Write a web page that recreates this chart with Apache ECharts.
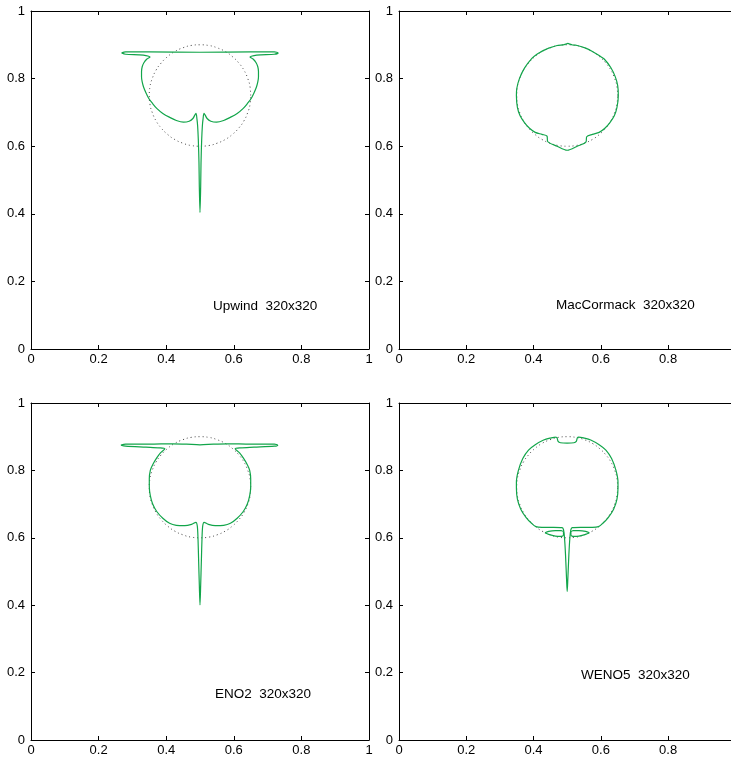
<!DOCTYPE html>
<html>
<head>
<meta charset="utf-8">
<script src="https://cdn.jsdelivr.net/npm/echarts@6/dist/echarts.min.js"></script>
<style>
  html, body { margin: 0; padding: 0; background: #fff; overflow: hidden; }
  /* the right-hand panels run slightly past the window edge */
  #chart { width: 742px; height: 760px; }
</style>
</head>
<body>
<div id="chart"></div>
<script>
// Axis ticks shared by all four panels
const tickValues = [0, 0.2, 0.4, 0.6, 0.8, 1];

// Initial interface: circle of radius 0.15 centred at (0.5, 0.75), sampled every 10 degrees
const initialCircle = [
  [0.650, 0.750], [0.648, 0.776], [0.641, 0.801], [0.630, 0.825], [0.615, 0.846], [0.596, 0.865],
  [0.575, 0.880], [0.551, 0.891], [0.526, 0.898], [0.500, 0.900], [0.474, 0.898], [0.449, 0.891],
  [0.425, 0.880], [0.404, 0.865], [0.385, 0.846], [0.370, 0.825], [0.359, 0.801], [0.352, 0.776],
  [0.350, 0.750], [0.352, 0.724], [0.359, 0.699], [0.370, 0.675], [0.385, 0.654], [0.404, 0.635],
  [0.425, 0.620], [0.449, 0.609], [0.474, 0.602], [0.500, 0.600], [0.526, 0.602], [0.551, 0.609],
  [0.575, 0.620], [0.596, 0.635], [0.615, 0.654], [0.630, 0.675], [0.641, 0.699], [0.648, 0.724],
  [0.650, 0.750]
];

// Upwind scheme, 320x320
const upwindFront = [
  [0.268, 0.876], [0.280, 0.879], [0.350, 0.879], [0.500, 0.878], [0.650, 0.879], [0.720, 0.879], [0.731, 0.876],
  [0.720, 0.872], [0.680, 0.870], [0.660, 0.868], [0.648, 0.864],
  [0.657, 0.858], [0.666, 0.847], [0.671, 0.835], [0.673, 0.821], [0.673, 0.805], [0.671, 0.790],
  [0.667, 0.775], [0.660, 0.758], [0.652, 0.742], [0.640, 0.726], [0.628, 0.712], [0.610, 0.697],
  [0.589, 0.685], [0.570, 0.676], [0.549, 0.671], [0.532, 0.674], [0.521, 0.682], [0.512, 0.697],
  [0.509, 0.680], [0.507, 0.660], [0.505, 0.620], [0.503, 0.550], [0.502, 0.480], [0.500, 0.404],
  [0.498, 0.480], [0.497, 0.550], [0.495, 0.620], [0.493, 0.660], [0.491, 0.680], [0.488, 0.697],
  [0.479, 0.682], [0.468, 0.674], [0.451, 0.671], [0.430, 0.676], [0.411, 0.685], [0.390, 0.697],
  [0.372, 0.712], [0.360, 0.726], [0.348, 0.742], [0.340, 0.758], [0.333, 0.775], [0.329, 0.790],
  [0.327, 0.805], [0.327, 0.821], [0.329, 0.835], [0.334, 0.847], [0.343, 0.858], [0.352, 0.864],
  [0.340, 0.868], [0.320, 0.870], [0.280, 0.872], [0.268, 0.876]
];

// MacCormack scheme, 320x320
const macCormackFront = [
  [0.515, 0.900], [0.508, 0.902], [0.502, 0.904], [0.496, 0.902], [0.488, 0.900], [0.470, 0.898],
  [0.445, 0.890], [0.420, 0.878], [0.410, 0.872], [0.395, 0.860], [0.373, 0.831], [0.358, 0.800],
  [0.350, 0.770], [0.349, 0.750], [0.352, 0.715], [0.360, 0.690], [0.373, 0.670], [0.388, 0.653],
  [0.405, 0.641], [0.425, 0.635], [0.440, 0.630], [0.442, 0.614], [0.470, 0.600], [0.500, 0.588],
  [0.530, 0.600], [0.556, 0.613], [0.558, 0.628], [0.575, 0.635], [0.595, 0.641], [0.612, 0.653],
  [0.627, 0.670], [0.640, 0.690], [0.648, 0.715], [0.652, 0.750], [0.650, 0.780], [0.643, 0.805],
  [0.630, 0.832], [0.610, 0.858], [0.595, 0.868], [0.575, 0.880], [0.555, 0.890], [0.530, 0.898],
  [0.515, 0.900]
];

// ENO2 scheme, 320x320
const eno2Front = [
  [0.266, 0.875], [0.280, 0.878], [0.350, 0.878], [0.420, 0.879], [0.460, 0.878], [0.500, 0.876],
  [0.540, 0.878], [0.580, 0.879], [0.650, 0.878], [0.720, 0.878], [0.730, 0.875],
  [0.720, 0.872], [0.660, 0.869], [0.620, 0.867], [0.604, 0.864],
  [0.617, 0.852], [0.628, 0.837], [0.640, 0.817], [0.647, 0.800], [0.650, 0.775], [0.650, 0.752],
  [0.647, 0.725], [0.640, 0.700], [0.628, 0.678], [0.610, 0.658], [0.590, 0.643], [0.570, 0.637],
  [0.545, 0.636], [0.525, 0.640], [0.512, 0.646],
  [0.508, 0.635], [0.506, 0.600], [0.504, 0.530], [0.502, 0.460], [0.500, 0.401],
  [0.498, 0.460], [0.496, 0.530], [0.494, 0.600], [0.492, 0.635], [0.488, 0.646],
  [0.475, 0.640], [0.455, 0.636], [0.430, 0.637], [0.410, 0.643], [0.390, 0.658], [0.372, 0.678],
  [0.360, 0.700], [0.353, 0.725], [0.350, 0.752], [0.350, 0.775], [0.353, 0.800], [0.360, 0.817],
  [0.372, 0.837], [0.383, 0.852], [0.396, 0.864],
  [0.380, 0.867], [0.340, 0.869], [0.280, 0.872], [0.266, 0.875]
];

// WENO5 scheme, 320x320: main body with thin trailing stem
const weno5Front = [
  [0.466, 0.899], [0.470, 0.896], [0.473, 0.886], [0.480, 0.882], [0.500, 0.881], [0.520, 0.882],
  [0.527, 0.886], [0.530, 0.896], [0.534, 0.899], [0.550, 0.896], [0.570, 0.890], [0.595, 0.876],
  [0.615, 0.860], [0.632, 0.835], [0.645, 0.800], [0.651, 0.765], [0.651, 0.748], [0.648, 0.715],
  [0.638, 0.685], [0.622, 0.660], [0.606, 0.643], [0.593, 0.633], [0.575, 0.631], [0.540, 0.631],
  [0.515, 0.630], [0.511, 0.624], [0.508, 0.600], [0.505, 0.550], [0.502, 0.480], [0.500, 0.441],
  [0.498, 0.480], [0.495, 0.550], [0.492, 0.600], [0.489, 0.624], [0.485, 0.630], [0.460, 0.631],
  [0.425, 0.631], [0.407, 0.633], [0.394, 0.643], [0.378, 0.660], [0.362, 0.685], [0.352, 0.715],
  [0.349, 0.748], [0.349, 0.765], [0.355, 0.800], [0.368, 0.835], [0.385, 0.860], [0.405, 0.876],
  [0.430, 0.890], [0.450, 0.896], [0.466, 0.899]
];
// WENO5 detached droplets beside the stem
const weno5DropLeft = [
  [0.434, 0.615], [0.445, 0.619], [0.465, 0.621], [0.482, 0.621], [0.489, 0.617], [0.489, 0.608],
  [0.482, 0.604], [0.465, 0.605], [0.445, 0.610], [0.434, 0.615]
];
const weno5DropRight = [
  [0.566, 0.615], [0.555, 0.619], [0.535, 0.621], [0.518, 0.621], [0.511, 0.617], [0.511, 0.608],
  [0.518, 0.604], [0.535, 0.605], [0.555, 0.610], [0.566, 0.615]
];

// Panel captions
const panelTitles = ['Upwind  320x320', 'MacCormack  320x320', 'ENO2  320x320', 'WENO5  320x320'];

const FONT = '"Liberation Sans", Arial, Helvetica, sans-serif';
const GREEN = '#12a54a';

const grids = [
  { left: 31, top: 11, width: 338, height: 338 },
  { left: 399, top: 11, width: 338, height: 338 },
  { left: 31, top: 403, width: 338, height: 337 },
  { left: 399, top: 403, width: 338, height: 337 }
];

const tickFmt = v => (tickValues.indexOf(v) >= 0 ? String(v) : '');

const xAxes = [], yAxes = [];
grids.forEach((g, i) => {
  const common = {
    type: 'value', min: 0, max: 1, interval: 0.2, gridIndex: i,
    axisLine: { show: true, onZero: false, lineStyle: { color: '#000', width: 1 } },
    axisTick: { show: true, inside: true, length: 4, lineStyle: { color: '#000', width: 1 } },
    splitLine: { show: false }
  };
  xAxes.push(Object.assign({}, common, {
    position: 'bottom',
    axisLabel: { color: '#000', fontSize: 13, fontFamily: FONT, margin: 4, formatter: tickFmt }
  }));
  xAxes.push(Object.assign({}, common, { position: 'top', axisLabel: { show: false } }));
  yAxes.push(Object.assign({}, common, {
    position: 'left',
    axisLabel: { color: '#000', fontSize: 13, fontFamily: FONT, margin: 6, formatter: tickFmt }
  }));
  yAxes.push(Object.assign({}, common, { position: 'right', axisLabel: { show: false } }));
});

function circleSeries(i) {
  return {
    type: 'line', xAxisIndex: 2 * i, yAxisIndex: 2 * i, data: initialCircle,
    showSymbol: false, smooth: true, silent: true, z: 1,
    lineStyle: { color: '#333', width: 0.9, type: [1, 3] }
  };
}
function frontSeries(i, pts) {
  return {
    type: 'line', xAxisIndex: 2 * i, yAxisIndex: 2 * i, data: pts,
    showSymbol: false, smooth: 0.3, silent: true, z: 2,
    lineStyle: { color: GREEN, width: 1.2 }
  };
}

const series = [
  circleSeries(0), frontSeries(0, upwindFront),
  circleSeries(1), frontSeries(1, macCormackFront),
  circleSeries(2), frontSeries(2, eno2Front),
  circleSeries(3), frontSeries(3, weno5Front), frontSeries(3, weno5DropLeft), frontSeries(3, weno5DropRight)
];

const captionPos = [[213, 299], [556, 298], [215, 687], [581, 668]];
const graphic = panelTitles.map((t, i) => ({
  type: 'text', left: captionPos[i][0], top: captionPos[i][1],
  style: { text: t, font: '13.5px ' + FONT, fill: '#000' }
}));

const chart = echarts.init(document.getElementById('chart'), null, { renderer: 'canvas' });
chart.setOption({
  animation: false,
  backgroundColor: '#fff',
  grid: grids,
  xAxis: xAxes,
  yAxis: yAxes,
  series: series,
  graphic: graphic
});
</script>
</body>
</html>
